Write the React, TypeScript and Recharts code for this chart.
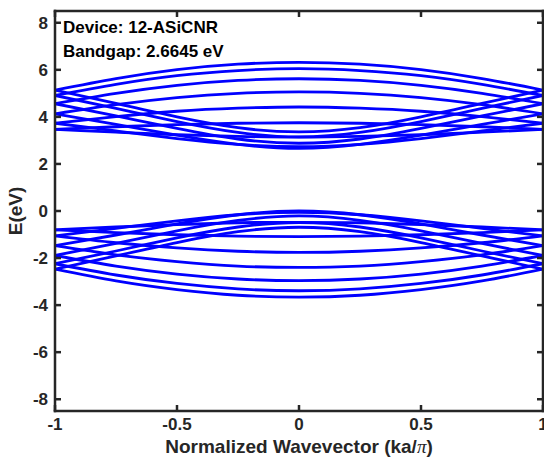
import React from 'react';
import { LineChart, Line, XAxis, YAxis } from 'recharts';

// Normalized wavevector samples (ka/pi)
const kValues = [-1, -0.75, -0.5, -0.25, 0, 0.25, 0.5, 0.75, 1];

// Conduction bands (eV)
const cb1 = [5.14, 5.63, 6.01, 6.24, 6.32, 6.24, 6.01, 5.63, 5.14];
const cb2 = [4.91, 5.38, 5.75, 5.97, 6.05, 5.97, 5.75, 5.38, 4.91];
const cb3 = [4.56, 5.0, 5.34, 5.55, 5.62, 5.55, 5.34, 5.0, 4.56];
const cb4 = [4.13, 4.52, 4.82, 5.0, 5.06, 5.0, 4.82, 4.52, 4.13];
const cb5 = [3.73, 4.01, 4.24, 4.37, 4.42, 4.37, 4.24, 4.01, 3.73];
const cb6 = [3.47, 3.58, 3.67, 3.73, 3.75, 3.73, 3.67, 3.58, 3.47];
const cb7 = [3.47, 3.35, 3.24, 3.17, 3.14, 3.17, 3.24, 3.35, 3.47];
const cb8 = [5.14, 4.57, 4.0, 3.54, 3.36, 3.54, 4.0, 4.57, 5.14];
const cb9 = [4.91, 4.36, 3.8, 3.34, 3.15, 3.34, 3.8, 4.36, 4.91];
const cb10 = [4.56, 4.04, 3.51, 3.06, 2.88, 3.06, 3.51, 4.04, 4.56];
const cb11 = [3.73, 3.4, 3.08, 2.83, 2.73, 2.83, 3.08, 3.4, 3.73];
const cb12 = [4.13, 3.68, 3.22, 2.83, 2.66, 2.83, 3.22, 3.68, 4.13];

// Valence bands (eV)
const vb1 = [-2.47, -2.97, -3.34, -3.58, -3.66, -3.58, -3.34, -2.97, -2.47];
const vb2 = [-2.24, -2.72, -3.08, -3.31, -3.39, -3.31, -3.08, -2.72, -2.24];
const vb3 = [-1.89, -2.34, -2.68, -2.89, -2.96, -2.89, -2.68, -2.34, -1.89];
const vb4 = [-1.47, -1.86, -2.15, -2.34, -2.4, -2.34, -2.15, -1.86, -1.47];
const vb5 = [-1.06, -1.35, -1.57, -1.71, -1.76, -1.71, -1.57, -1.35, -1.06];
const vb6 = [-0.8, -0.92, -1.01, -1.07, -1.09, -1.07, -1.01, -0.92, -0.8];
const vb7 = [-0.8, -0.68, -0.58, -0.5, -0.48, -0.5, -0.58, -0.68, -0.8];
const vb8 = [-2.47, -1.91, -1.34, -0.88, -0.69, -0.88, -1.34, -1.91, -2.47];
const vb9 = [-2.24, -1.7, -1.14, -0.68, -0.49, -0.68, -1.14, -1.7, -2.24];
const vb10 = [-1.89, -1.38, -0.84, -0.4, -0.21, -0.4, -0.84, -1.38, -1.89];
const vb11 = [-1.06, -0.74, -0.42, -0.16, -0.06, -0.16, -0.42, -0.74, -1.06];
const vb12 = [-1.47, -1.02, -0.55, -0.16, 0.0, -0.16, -0.55, -1.02, -1.47];

// Tick labels
const xTicks = [-1, -0.5, 0, 0.5, 1];
const yTicks = [-8, -6, -4, -2, 0, 2, 4, 6, 8];

const deviceText = 'Device: 12-ASiCNR';
const bandgapText = 'Bandgap: 2.6645 eV';

const bands: { key: string; values: number[] }[] = [
  { key: 'cb1', values: cb1 },
  { key: 'cb2', values: cb2 },
  { key: 'cb3', values: cb3 },
  { key: 'cb4', values: cb4 },
  { key: 'cb5', values: cb5 },
  { key: 'cb6', values: cb6 },
  { key: 'cb7', values: cb7 },
  { key: 'cb8', values: cb8 },
  { key: 'cb9', values: cb9 },
  { key: 'cb10', values: cb10 },
  { key: 'cb11', values: cb11 },
  { key: 'cb12', values: cb12 },
  { key: 'vb1', values: vb1 },
  { key: 'vb2', values: vb2 },
  { key: 'vb3', values: vb3 },
  { key: 'vb4', values: vb4 },
  { key: 'vb5', values: vb5 },
  { key: 'vb6', values: vb6 },
  { key: 'vb7', values: vb7 },
  { key: 'vb8', values: vb8 },
  { key: 'vb9', values: vb9 },
  { key: 'vb10', values: vb10 },
  { key: 'vb11', values: vb11 },
  { key: 'vb12', values: vb12 },
];

const rows = kValues.map((k, i) => {
  const row: Record<string, number> = { k };
  bands.forEach((b) => {
    row[b.key] = b.values[i];
  });
  return row;
});

const AXIS = '#262626';
const FONT = '"Liberation Sans", Arial, Helvetica, sans-serif';
const TICK_LEN = 6;
const TICK_W = 2.5;

const BottomTick = (props: any) => {
  const { x, y, payload } = props;
  return (
    <g>
      <line x1={x} y1={y} x2={x} y2={y - TICK_LEN} stroke={AXIS} strokeWidth={TICK_W} />
      <text x={x} y={y + 19} textAnchor="middle" fontFamily={FONT} fontWeight="bold" fontSize={17} fill={AXIS}>
        {String(payload.value)}
      </text>
    </g>
  );
};

const TopTick = (props: any) => {
  const { x, y } = props;
  return <line x1={x} y1={y} x2={x} y2={y + TICK_LEN} stroke={AXIS} strokeWidth={TICK_W} />;
};

const LeftTick = (props: any) => {
  const { x, y, payload } = props;
  return (
    <g>
      <line x1={x} y1={y} x2={x + TICK_LEN} y2={y} stroke={AXIS} strokeWidth={TICK_W} />
      <text x={x - 7} y={y} dy="0.36em" textAnchor="end" fontFamily={FONT} fontWeight="bold" fontSize={17} fill={AXIS}>
        {String(payload.value)}
      </text>
    </g>
  );
};

const RightTick = (props: any) => {
  const { x, y } = props;
  return <line x1={x} y1={y} x2={x - TICK_LEN} y2={y} stroke={AXIS} strokeWidth={TICK_W} />;
};

const axisLine = { stroke: AXIS, strokeWidth: 2.5, strokeLinecap: 'square' as const };

export default function App() {
  return (
    <div style={{ position: 'absolute', left: 0, top: 0, width: 544, height: 466, background: '#fff' }}>
      <LineChart width={544} height={466} data={rows} margin={{ top: 0, right: 0, bottom: 0, left: 0 }}>
        <XAxis
          xAxisId="b"
          dataKey="k"
          type="number"
          domain={[-1, 1]}
          allowDataOverflow
          ticks={xTicks}
          height={55}
          tickSize={0}
          tickMargin={0}
          tickLine={false}
          axisLine={axisLine}
          tick={<BottomTick />}
          interval={0}
        />
        <XAxis
          xAxisId="t"
          orientation="top"
          dataKey="k"
          type="number"
          domain={[-1, 1]}
          allowDataOverflow
          ticks={xTicks}
          height={11}
          tickSize={0}
          tickMargin={0}
          tickLine={false}
          axisLine={axisLine}
          tick={<TopTick />}
          interval={0}
        />
        <YAxis
          yAxisId="l"
          type="number"
          domain={[-8.5, 8.5]}
          allowDataOverflow
          ticks={yTicks}
          width={55}
          tickSize={0}
          tickMargin={0}
          tickLine={false}
          axisLine={axisLine}
          tick={<LeftTick />}
          interval={0}
        />
        <YAxis
          yAxisId="r"
          orientation="right"
          type="number"
          domain={[-8.5, 8.5]}
          allowDataOverflow
          ticks={yTicks}
          width={1}
          tickSize={0}
          tickMargin={0}
          tickLine={false}
          axisLine={axisLine}
          tick={<RightTick />}
          interval={0}
        />
        {bands.map((b) => (
          <Line
            key={b.key}
            xAxisId="b"
            yAxisId="l"
            dataKey={b.key}
            type="natural"
            stroke="#0000FF"
            strokeWidth={2.8}
            dot={false}
            activeDot={false}
            isAnimationActive={false}
          />
        ))}
      </LineChart>
      <svg
        width={544}
        height={466}
        style={{ position: 'absolute', left: 0, top: 0, pointerEvents: 'none' }}
      >
        <text x={63} y={33} fontFamily={FONT} fontWeight="bold" fontSize={17} fill="#000">
          {deviceText}
        </text>
        <text x={63} y={57} fontFamily={FONT} fontWeight="bold" fontSize={17} fill="#000">
          {bandgapText}
        </text>
        <text x={299} y={453} textAnchor="middle" fontFamily={FONT} fontWeight="bold" fontSize={19} fill={AXIS}>
          Normalized Wavevector (ka/
          <tspan fontFamily='"Liberation Serif", "DejaVu Serif", serif' fontStyle="italic" fontWeight="normal">π</tspan>)
        </text>
        <text
          transform="translate(15,211) rotate(-90)"
          textAnchor="middle"
          dy="0.36em"
          fontFamily={FONT}
          fontWeight="bold"
          fontSize={19}
          fill={AXIS}
        >
          E(eV)
        </text>
      </svg>
    </div>
  );
}
